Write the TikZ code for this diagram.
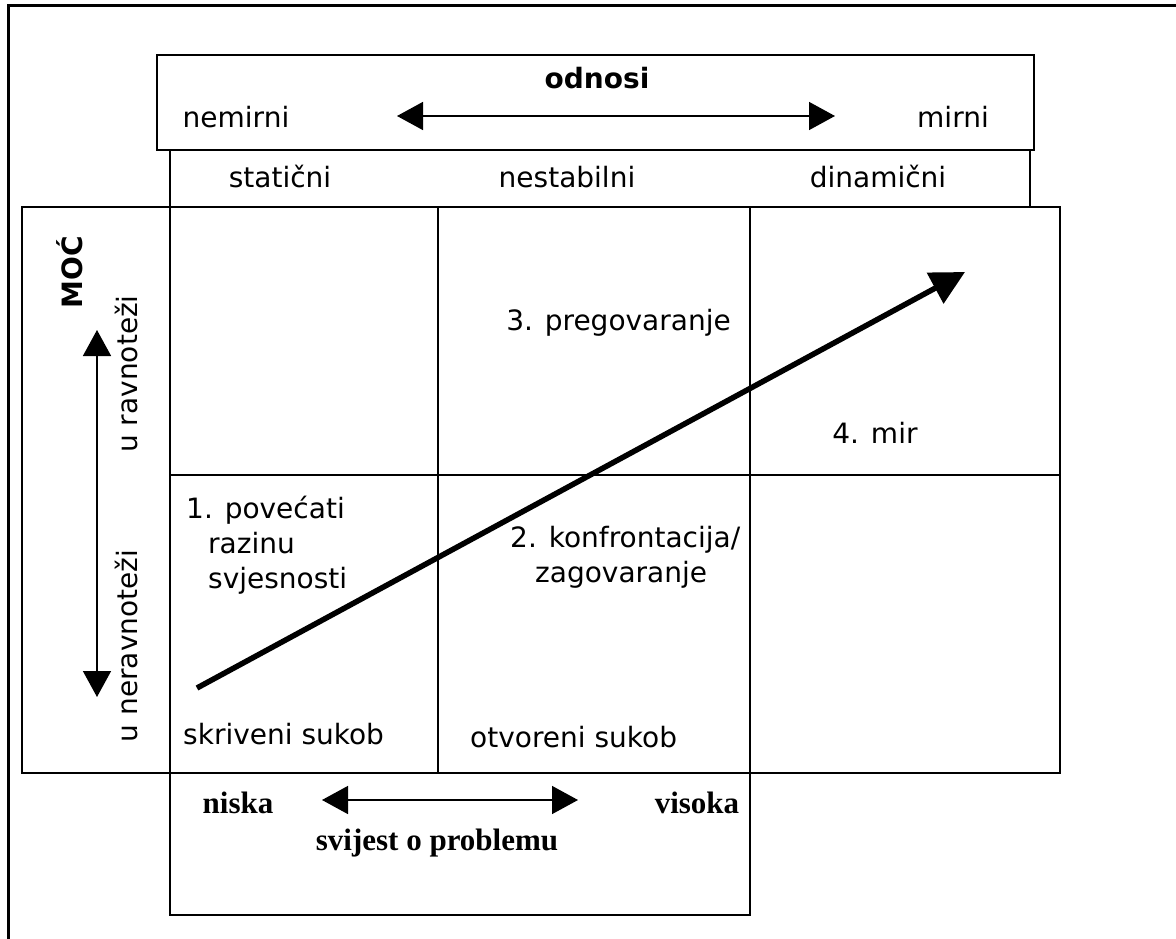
\documentclass[tikz,border=0pt]{standalone}
\usepackage{fontspec}
\setmainfont{DejaVu Sans}
\newfontfamily\tnr{Liberation Serif}
\usetikzlibrary{arrows.meta}
\begin{document}
\begin{tikzpicture}[x=1pt,y=-1pt,
  grid/.style={line width=2pt},
  frame/.style={line width=3pt},
  txt/.style={font=\fontsize{28}{35}\selectfont, inner sep=0pt},
  boldtxt/.style={font=\bfseries\fontsize{28}{35}\selectfont, inner sep=0pt},
  btxt/.style={font=\tnr\bfseries\fontsize{31}{36}\selectfont, inner sep=0pt},
  thinarrow/.style={line width=1.5pt, {Triangle[length=26pt,width=28pt]}-{Triangle[length=26pt,width=28pt]}},
  bigarrow/.style={line width=5.5pt, -{Triangle[length=34pt,width=34pt]}}]
\useasboundingbox (0,0) rectangle (1176,939);
\fill[white] (0,0) rectangle (1176,939);
% outer frame (cut at right and bottom)
\draw[frame] (8,939) -- (8,6) -- (1176,6);
% top box
\draw[grid] (157,55) rectangle (1034,150);
\draw[grid] (170,150) -- (170,207) (1030,150) -- (1030,207);
% main grid
\draw[grid] (22,207) rectangle (1060,773);
\draw[grid] (170,207) -- (170,773) (438,207) -- (438,773) (750,207) -- (750,773);
\draw[grid] (170,475) -- (1060,475);
% bottom box
\draw[grid] (170,773) -- (170,915) -- (750,915) -- (750,773);
% top box texts
\node[boldtxt] (odn) at (597,78) {odnosi};
\node[txt] (nem) at (236,117) {nemirni};
\node[txt] (mir) at (953,117) {mirni};
\coordinate (tl) at (397,116);
\coordinate (tr) at (835,116);
\draw[thinarrow] (tl) -- (tr);
\node[txt] (stat) at (280,177) {statični};
\node[txt] (nest) at (567,177) {nestabilni};
\node[txt] (dina) at (878,177) {dinamični};
% left column
\node[boldtxt, rotate=90] (moc) at (70,272) {MOĆ};
\node[txt, rotate=90] (ravn) at (126,374) {u ravnoteži};
\node[txt, rotate=90] (nerav) at (126,646) {u neravnoteži};
\coordinate (vt) at (97,330);
\coordinate (vb) at (97,697);
\draw[thinarrow] (vt) -- (vb);
% cell texts
\node[txt, anchor=east] (c3) at (731,323) {3. pregovaranje};
\node[txt] (c4) at (875,433) {4. mir};
\node[txt, anchor=west, align=left] (c1) at (186,545) {1. povećati\\\hspace*{22pt}razinu\\\hspace*{22pt}svjesnosti};
\node[txt, anchor=west, align=left] (c2) at (510,557) {2. konfrontacija/\\\hspace*{25pt}zagovaranje};
\node[txt, anchor=west] (skr) at (183,734) {skriveni sukob};
\node[txt, anchor=west] (otv) at (470,737) {otvoreni sukob};
% big arrow
\coordinate (ba) at (197,688);
\coordinate (bb) at (965,272);
\draw[bigarrow] (ba) -- (bb);
% bottom box texts
\node[btxt] (nis) at (238,803) {niska};
\node[btxt] (vis) at (697,803) {visoka};
\node[btxt] (svi) at (437,843) {svijest o problemu};
\coordinate (bl) at (322,800);
\coordinate (br) at (578,800);
\draw[thinarrow] (bl) -- (br);
\end{tikzpicture}
\end{document}
